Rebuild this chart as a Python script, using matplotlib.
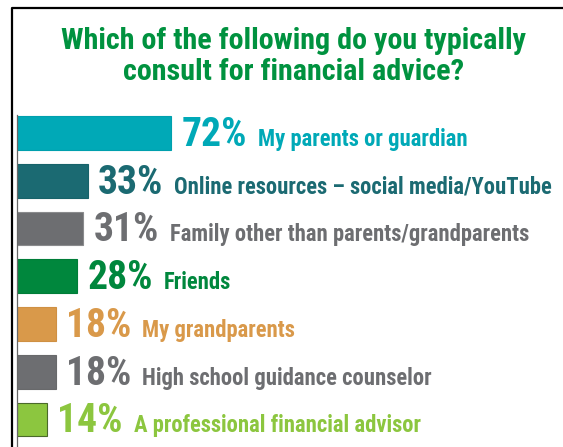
import matplotlib
matplotlib.use("Agg")
import matplotlib.pyplot as plt
from matplotlib.lines import Line2D

title_lines = ["Which of the following do you typically", "consult for financial advice?"]
labels = ["My parents or guardian",
          "Online resources \u2013 social media/YouTube",
          "Family other than parents/grandparents",
          "Friends",
          "My grandparents",
          "High school guidance counselor",
          "A professional financial advisor"]
values = [72, 33, 31, 28, 18, 18, 14]
colors = ["#00a9b7", "#1b6a72", "#6d6e71", "#00873d", "#d9994a", "#6d6e71", "#8cc63f"]
edges = ["#00a0ad", "#17636a", "#8a8b8d", "#007d38", "#cf9043", "#68696b", "#4a6a2a"]

narrow = ["Roboto Condensed", "DejaVu Sans"]
W, H = 563, 447
fig = plt.figure(figsize=(W / 100, H / 100), dpi=100)

# axes: left spine at x=17px, bars at 2.14 px per percent
ax = fig.add_axes([17 / W, 0, 1 - 17 / W, 1 - 115 / H])
n = len(values)
ypos = [n - 1 - i for i in range(n)]
ax.barh(ypos, values, height=0.71, color=colors, edgecolor=edges, linewidth=0.8, zorder=2)
ax.set_xlim(0, (W - 17) / 2.14)
ax.set_ylim(-0.576, 6.377)
for s in ["top", "right", "bottom"]:
    ax.spines[s].set_visible(False)
ax.spines["left"].set_color("#666666")
ax.spines["left"].set_linewidth(0.9)
ax.set_xticks([])
ax.set_yticks([])

pcts = []
for y, v, c in zip(ypos, values, colors):
    t = ax.annotate(f"{v}%", xy=(v, y - 0.27), xytext=(7.5, 0), textcoords="offset points",
                    ha="left", va="baseline", fontsize=28.5, fontweight="semibold",
                    color=c, family=narrow)
    pcts.append(t)

fig.canvas.draw()
r = fig.canvas.get_renderer()
inv = ax.transData.inverted()
for t, y, lab, c in zip(pcts, ypos, labels, colors):
    bb = t.get_window_extent(r)
    x_end = inv.transform((bb.x1 + 11, 0))[0]
    ax.text(x_end, y - 0.27, lab, ha="left", va="baseline", fontsize=16.3,
            fontweight="bold", color=c, family=narrow)

for i, line in enumerate(title_lines):
    fig.text(294 / W, 1 - (49 + 31 * i) / H, line, ha="center", va="baseline",
             fontsize=21.7, fontweight="heavy", color="#00923f", family=narrow)

# frame border
fx, fy = 12 / W, 1 - 8 / H
fig.add_artist(Line2D([fx, fx, 1], [0, fy, fy], color="black", linewidth=1.6,
                      transform=fig.transFigure))

fig.savefig("out.png", dpi=100)
